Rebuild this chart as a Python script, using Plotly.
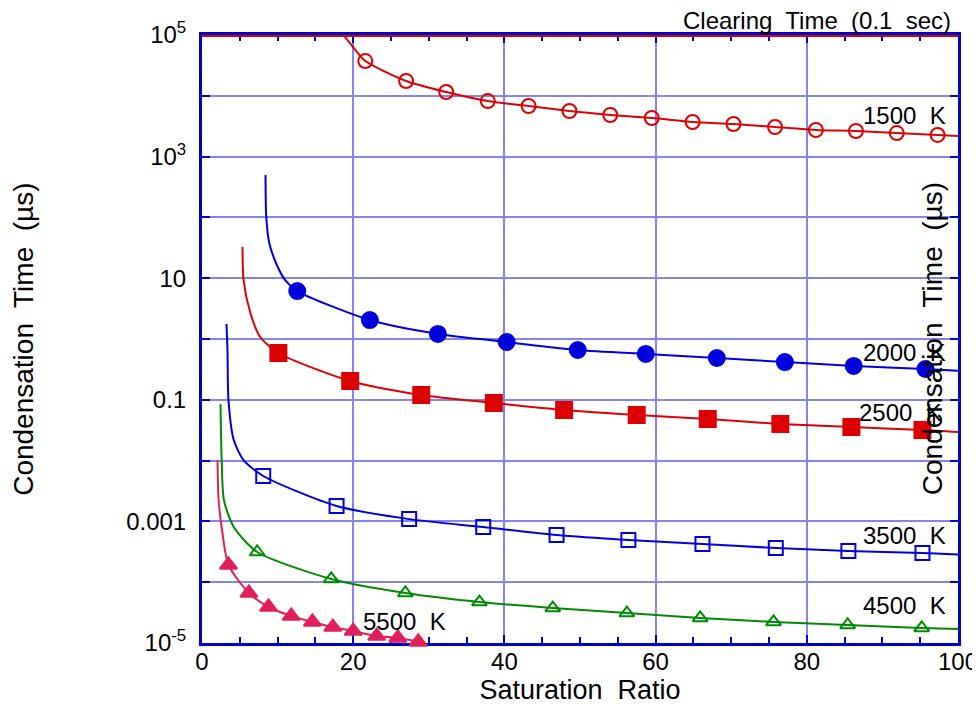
import plotly.graph_objects as go

# ---------------- data ----------------
clearing_sat = [0, 100]
clearing_time = [1e5, 1e5]

sat_1500 = [21.6, 27.0, 32.3, 37.8, 43.2, 48.6, 54.0, 59.5, 64.9, 70.3, 75.8, 81.2, 86.5, 91.9, 97.3]
t_1500 = [37300, 17500, 11550, 8200, 6790, 5620, 4830, 4310, 3710, 3440, 3070, 2740, 2640, 2440, 2270]
head_sat_1500 = [18.7, 20.3]
head_t_1500 = [1e5, 56600]
tail_sat_1500 = [100]
tail_t_1500 = [2180]

sat_2000 = [12.6, 22.2, 31.2, 40.3, 49.7, 58.7, 68.1, 77.1, 86.2, 95.7]
t_2000 = [6.15, 2.05, 1.21, 0.893, 0.659, 0.567, 0.487, 0.418, 0.36, 0.321]
head_sat_2000 = [8.4, 8.5, 8.9, 9.9, 11.0]
head_t_2000 = [497, 101.6, 37.9, 16.5, 9.33]
tail_sat_2000 = [100]
tail_t_2000 = [0.30]

sat_2500 = [10.1, 19.6, 29.0, 38.6, 47.9, 57.5, 66.9, 76.5, 85.9, 95.3]
t_2500 = [0.589, 0.204, 0.12, 0.0886, 0.068, 0.0562, 0.0483, 0.040, 0.0357, 0.0319]
head_sat_2500 = [5.36, 5.5, 6.4, 7.7]
head_t_2500 = [32.6, 9.33, 2.68, 1.08]
tail_sat_2500 = [100]
tail_t_2500 = [0.0295]

sat_3500 = [8.1, 17.8, 27.4, 37.2, 46.9, 56.4, 66.2, 75.9, 85.5, 95.3]
t_3500 = [5.58e-3, 1.79e-3, 1.09e-3, 8.08e-4, 5.97e-4, 4.94e-4, 4.25e-4, 3.65e-4, 3.26e-4, 3.02e-4]
head_sat_3500 = [3.24, 3.37, 3.5, 4.2, 5.5]
head_t_3500 = [1.77, 0.659, 0.1, 0.0218, 0.0102]
tail_sat_3500 = [100]
tail_t_3500 = [2.85e-4]

sat_4500 = [7.3, 17.1, 26.9, 36.7, 46.4, 56.2, 65.9, 75.6, 85.4, 95.2]
t_4500 = [3.14e-4, 1.13e-4, 6.64e-5, 4.72e-5, 3.76e-5, 3.11e-5, 2.58e-5, 2.22e-5, 1.98e-5, 1.77e-5]
head_sat_4500 = [2.45, 2.6, 2.9, 4.2]
head_t_4500 = [0.0853, 0.0102, 2.25e-3, 8.09e-4]
tail_sat_4500 = [100]
tail_t_4500 = [1.7e-5]

sat_5500 = [3.5, 6.2, 8.8, 11.8, 14.6, 17.3, 20.0, 23.1, 25.9, 28.6]
t_5500 = [1.92e-4, 6.64e-5, 3.91e-5, 2.78e-5, 2.22e-5, 1.83e-5, 1.57e-5, 1.30e-5, 1.21e-5, 1.04e-5]
head_sat_5500 = [2.05, 2.2, 2.7]
head_t_5500 = [0.0102, 2.25e-3, 6.45e-4]
tail_sat_5500 = [28.8]
tail_t_5500 = [1.0e-5]

x_ticks = [0, 20, 40, 60, 80, 100]
y_tickvals = [1e5, 1e3, 1e1, 0.1, 0.001, 1e-5]
y_ticktext = ["10<sup>5</sup>", "10<sup>3</sup>", "10", "0.1", "0.001", "10<sup>-5</sup>"]
y_minor_tickvals = [1e4, 1e2, 1, 0.01, 1e-4]

NB = "\u00a0"
series_labels = ["1500" + NB + " K", "2000" + NB + " K", "2500" + NB + " K",
                 "3500" + NB + " K", "4500" + NB + " K", "5500" + NB + " K"]
clearing_label = "Clearing" + NB + " Time" + NB + " (0.1" + NB + " sec)"
y_title = "Condensation" + NB + " Time" + NB + " (µs)"
x_title = "Saturation" + NB + " Ratio"

# ---------------- style ----------------
RED = "#dd0000"
BLUE = "#0000dd"
GREEN = "#008a00"
CRIMSON = "#e0205a"
AXIS = "#0000cc"
GRID = "#8484ec"
FONT = "Liberation Sans, Arial, sans-serif"

fig = go.Figure()

series = [
    (head_sat_1500, head_t_1500, sat_1500, t_1500, tail_sat_1500, tail_t_1500, RED, "circle-open", 14),
    (head_sat_2000, head_t_2000, sat_2000, t_2000, tail_sat_2000, tail_t_2000, BLUE, "circle", 16),
    (head_sat_2500, head_t_2500, sat_2500, t_2500, tail_sat_2500, tail_t_2500, RED, "square", 16),
    (head_sat_3500, head_t_3500, sat_3500, t_3500, tail_sat_3500, tail_t_3500, BLUE, "square-open", 14),
    (head_sat_4500, head_t_4500, sat_4500, t_4500, tail_sat_4500, tail_t_4500, GREEN, "triangle-up-open", 13),
    (head_sat_5500, head_t_5500, sat_5500, t_5500, tail_sat_5500, tail_t_5500, CRIMSON, "triangle-up", 15),
]

for hx, hy, mx, my, tx, ty, col, sym, sz in series:
    fig.add_trace(go.Scatter(
        x=hx + mx + tx, y=hy + my + ty, mode="lines",
        line=dict(color=col, width=2, shape="spline", smoothing=0.7),
        hoverinfo="skip", showlegend=False))
    fig.add_trace(go.Scatter(
        x=mx, y=my, mode="markers",
        marker=dict(symbol=sym, size=sz, color=col, line=dict(color=col, width=2)),
        showlegend=False, cliponaxis=False))

fig.add_trace(go.Scatter(
    x=clearing_sat, y=clearing_time, mode="lines",
    line=dict(color=RED, width=4), showlegend=False, cliponaxis=False))

axis_common = dict(
    showline=True, linecolor=AXIS, linewidth=3, mirror="ticks",
    ticks="inside", ticklen=8, tickwidth=2, tickcolor=AXIS,
    showgrid=True, gridcolor=GRID, gridwidth=2, zeroline=False,
    tickfont=dict(family=FONT, size=24, color="black"),
    layer="below traces", automargin=False,
)

fig.update_xaxes(
    range=[0, 100], tickvals=x_ticks,
    minor=dict(dtick=5, ticks="inside", ticklen=6, tickwidth=2, tickcolor=AXIS, showgrid=False),
    title=dict(text=x_title, font=dict(family=FONT, size=27, color="black"), standoff=0),
    ticklabelstandoff=-5,
    **axis_common)

fig.update_yaxes(
    type="log", range=[-5, 5], tickvals=y_tickvals, ticktext=y_ticktext,
    minor=dict(tickmode="array", tickvals=y_minor_tickvals, ticks="inside", ticklen=8,
               tickwidth=2, tickcolor=AXIS, showgrid=True, gridcolor=GRID, gridwidth=2),
    ticklabelstandoff=8,
    **axis_common)

label_pos = [
    (98.7, 3.684, "right"),
    (98.7, -0.214, "right"),
    (98.1, -1.217, "right"),
    (98.7, -3.24, "right"),
    (98.7, -4.39, "right"),
    (26.8, -4.65, "center"),
]
annotations = []
for (lx, ly, anc), txt in zip(label_pos, series_labels):
    annotations.append(dict(x=lx, y=ly, xref="x", yref="y", text=txt, showarrow=False,
                            xanchor=anc, yanchor="middle",
                            font=dict(family=FONT, size=24, color="black")))

annotations += [
    dict(x=0.993, y=1.024, xref="paper", yref="paper", text=clearing_label,
         showarrow=False, xanchor="right", yanchor="middle",
         font=dict(family=FONT, size=24, color="black")),
    dict(x=-0.237, y=0.5, xref="paper", yref="paper", text=y_title,
         textangle=-90, showarrow=False, xanchor="center", yanchor="middle",
         font=dict(family=FONT, size=28, color="black")),
    dict(x=0.966, y=0.5, xref="paper", yref="paper", text=y_title,
         textangle=-90, showarrow=False, xanchor="center", yanchor="middle",
         font=dict(family=FONT, size=28, color="black")),
    dict(x=0.512, y=1.045, xref="paper", yref="paper", text="<b>y</b>",
         showarrow=False, xanchor="center", yanchor="bottom",
         font=dict(family=FONT, size=30, color="#22dd00")),
]

# the page adds an 8 px body margin, so the plot box is shifted by that
fig.update_layout(
    width=980, height=705,
    margin=dict(l=194, r=30, t=27, b=70, autoexpand=False),
    paper_bgcolor="white", plot_bgcolor="white",
    showlegend=False,
    annotations=annotations,
    font=dict(family=FONT),
)

fig.write_html("out.html")
